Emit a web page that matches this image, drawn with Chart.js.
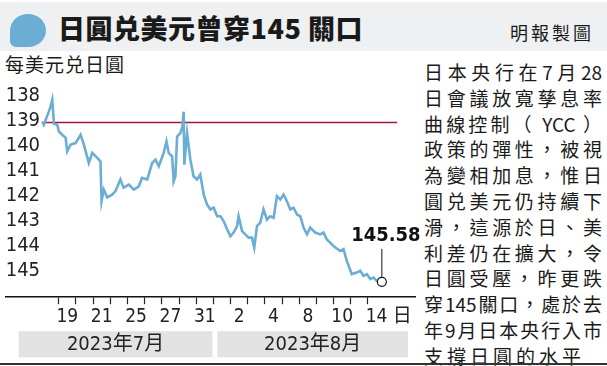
<!DOCTYPE html>
<html>
<head>
<meta charset="utf-8">
<script src="https://cdn.jsdelivr.net/npm/chart.js@4.4.0/dist/chart.umd.min.js"></script>
<style>
  body { margin:0; width:607px; height:366px; position:relative; overflow:hidden; background:#fff;
         font-family:"Noto Sans CJK TC", sans-serif; color:#1a1a1a; }
  #head { position:absolute; left:0; top:2px; width:607px; height:49px; background:#eef0f2; }
  #blob { position:absolute; left:10px; top:12px; width:36px; height:33px; background:#6aaed6;
          border-radius:50% 50% 50% 50% / 50% 50% 50% 50%; border-bottom-left-radius:6px; }
  #title { position:absolute; left:58px; top:11px; font-size:27px; line-height:29px; font-weight:900; letter-spacing:0.5px; }
  #credit { position:absolute; left:510px; top:20px; font-size:18px; line-height:20px; letter-spacing:3px; }
  #unit { position:absolute; left:5px; top:53px; font-size:19px; line-height:22px; letter-spacing:1px; }
  #note { position:absolute; left:424px; top:59px; width:178px; font-size:19px; line-height:25.8px; }
  #note div { text-align:justify; text-align-last:justify; white-space:nowrap; }
  #note div.last { text-align-last:left; letter-spacing:4px; }
  #rule { position:absolute; left:0; top:363px; width:607px; height:2px; background:#333; }
  canvas { position:absolute; left:0; top:0; }
</style>
</head>
<body>
<div id="head"><div id="blob"></div><div id="title">日圓兑美元曾穿145 關口</div><div id="credit">明報製圖</div></div>
<div id="unit">每美元兑日圓</div>
<div id="note">
  <div>日 本 央 行 在 7 月 28</div>
  <div>日會議放寬孳息率</div>
  <div>曲線控制（ YCC ）</div>
  <div>政策的彈性，被視</div>
  <div>為變相加息，惟日</div>
  <div>圓兑美元仍持續下</div>
  <div>滑，這源於日、美</div>
  <div>利差仍在擴大，令</div>
  <div>日圓受壓，昨更跌</div>
  <div>穿145關口，處於去</div>
  <div>年9月日本央行入市</div>
  <div class="last">支撐日圓的水平</div>
</div>
<div id="rule"></div>
<canvas id="myChart" width="607" height="366"></canvas>
<script>
"use strict";
// trading days shown on the axis
const julDays = [18, 19, 20, 21, 24, 25, 26, 27, 28, 31];
const augDays = [1, 2, 3, 4, 7, 8, 9, 10, 11, 14];
const shownDays = [19, 21, 25, 27, 31, 2, 4, 8, 10, 14];
const monthNames = ["2023年7月", "2023年8月"];
const dayUnit = "日";
const yTicks = [138, 139, 140, 141, 142, 143, 144, 145];

// position in trading days (0 = 18 Jul) and yen per dollar
const dayPos = [0.04,0.13,0.42,0.52,0.62,0.72,0.91,1.01,1.20,1.40,
  1.49,1.69,1.98,2.27,2.46,2.75,2.95,3.24,3.43,3.49,
  3.62,3.82,4.11,4.30,4.59,4.77,5.08,5.37,5.66,5.85,
  6.15,6.44,6.63,6.82,7.11,7.27,7.40,7.60,7.69,7.79,
  7.89,8.08,8.20,8.27,8.31,8.47,8.66,8.85,9.05,9.24,
  9.44,9.63,9.83,10.02,10.22,10.41,10.60,10.80,10.99,11.18,
  11.38,11.47,11.67,11.86,12.05,12.25,12.38,12.54,12.73,12.92,
  13.12,13.31,13.51,13.70,13.90,14.09,14.28,14.48,14.67,14.87,
  15.06,15.25,15.45,15.64,15.93,16.22,16.41,16.61,16.80,16.99,
  17.38,17.58,17.77,18.06,18.35,18.55,18.74,18.94,19.13,19.32,
  19.52,19.71,19.81];
const usdJpy = [139.20,139.33,138.81,138.61,138.34,139.29,139.33,139.60,139.73,139.85,
  140.39,140.12,140.06,139.73,140.12,140.85,140.45,140.65,140.79,142.37,
  141.91,142.22,142.11,141.97,141.51,141.83,141.71,141.91,141.78,141.44,
  141.51,140.85,140.72,140.98,140.45,139.99,140.45,140.59,141.58,141.38,
  139.80,139.66,139.40,138.81,140.92,139.66,140.72,141.38,141.51,141.31,
  142.11,142.50,142.70,142.63,142.97,142.97,143.16,143.49,143.76,143.62,
  143.36,142.97,143.56,143.69,143.82,143.82,144.22,143.36,143.23,142.70,
  143.10,142.97,143.03,142.17,142.30,142.11,142.37,142.70,142.63,142.90,
  142.97,143.42,143.69,143.42,143.62,143.69,143.62,143.89,144.02,144.15,
  144.35,144.28,144.75,145.27,145.21,145.14,145.34,145.27,145.47,145.41,
  145.54,145.45,145.58];
// red reference level
const refLevel = 139.24;
const refSpan = [0.04, 20.7];

const tradingDays = julDays.concat(augDays);
const narrow = "'Liberation Sans Narrow', 'DejaVu Sans Condensed', 'Noto Sans CJK TC', sans-serif";
Chart.defaults.font.family = narrow;
Chart.defaults.color = "#222";

// label + line for the last value
const lastLabel = {
  id: "lastLabel",
  afterDatasetsDraw(chart) {
    const pts = chart.getDatasetMeta(0).data;
    const p = pts[pts.length - 1];
    const ctx = chart.ctx;
    ctx.save();
    ctx.strokeStyle = "#111";
    ctx.lineWidth = 1;
    ctx.beginPath();
    ctx.moveTo(p.x, p.y - 5);
    ctx.lineTo(p.x, p.y - 33);
    ctx.stroke();
    ctx.font = "bold 20px " + narrow;
    ctx.fillStyle = "#111";
    ctx.textAlign = "center";
    ctx.textBaseline = "middle";
    ctx.fillText(usdJpy[usdJpy.length - 1].toFixed(2), p.x + 4, p.y - 46);
    ctx.restore();
  }
};

// grey month boxes under the day labels
const monthBars = {
  id: "monthBars",
  afterDraw(chart) {
    const ctx = chart.ctx;
    const area = chart.chartArea;
    const split = chart.scales.x.getPixelForValue(julDays.length);
    const boxes = [[area.left + 13, split - 1], [split + 4, area.right - 7]];
    const top = area.bottom + 34;
    ctx.save();
    ctx.font = "20px " + narrow;
    ctx.textAlign = "center";
    ctx.textBaseline = "middle";
    boxes.forEach(([l, r], i) => {
      ctx.fillStyle = "#e2e2e2";
      ctx.fillRect(l, top, r - l, 26);
      ctx.fillStyle = "#222";
      ctx.fillText(monthNames[i], (l + r) / 2, top + 13.5);
    });
    ctx.restore();
  }
};

const ctx = document.getElementById("myChart").getContext("2d");
const myChart = new Chart(ctx, {
  type: "line",
  data: {
    datasets: [{
      data: dayPos.map((x, i) => ({ x: x, y: usdJpy[i] })),
      borderColor: "#6aaed6",
      borderWidth: 2.6,
      tension: 0,
      pointRadius: (c) => c.dataIndex === usdJpy.length - 1 ? 4.5 : 0,
      pointBackgroundColor: "#fff",
      pointBorderColor: "#111",
      pointBorderWidth: 1.2,
      order: 0
    }, {
      data: refSpan.map((x) => ({ x: x, y: refLevel })),
      borderColor: "#a3173a",
      borderWidth: 1.5,
      pointRadius: 0,
      order: 1
    }]
  },
  options: {
    responsive: false,
    animation: false,
    events: [],
    layout: { padding: { left: 5, right: 192, top: 81, bottom: 37 } },
    plugins: { legend: { display: false }, tooltip: { enabled: false } },
    scales: {
      x: {
        type: "linear",
        min: -2.09,
        max: 21.74,
        afterBuildTicks: (axis) => {
          const t = [];
          for (let i = 1; i < tradingDays.length; i++) t.push({ value: i, txt: "" });
          tradingDays.forEach((d, i) => {
            if (shownDays.includes(d)) t.push({ value: i + 0.5, txt: String(d) });
          });
          t.push({ value: tradingDays.length + 1, txt: dayUnit });
          t.sort((a, b) => a.value - b.value);
          axis.ticks = t;
        },
        ticks: {
          autoSkip: false,
          maxRotation: 0,
          padding: 1,
          font: { size: 19 },
          callback: (v, i, ticks) => ticks[i].txt
        },
        grid: {
          drawOnChartArea: false,
          tickLength: 7,
          tickWidth: 1.2,
          tickColor: (c) => Number.isInteger(c.tick.value) && c.tick.value < tradingDays.length ? "#222" : "rgba(0,0,0,0)"
        },
        border: { display: true, color: "#111", width: 1.5 }
      },
      y: {
        type: "linear",
        reverse: true,
        min: 137.59,
        max: 146.19,
        afterBuildTicks: (axis) => {
          axis.ticks = yTicks.flatMap((v) => [{ value: v }, { value: v + 0.5 }]);
        },
        ticks: {
          mirror: true,
          padding: 0,
          labelOffset: 4,
          font: { size: 20 },
          callback: (v) => Number.isInteger(v) ? String(v) : ""
        },
        grid: {
          drawTicks: false,
          lineWidth: 1,
          color: (c) => Number.isInteger(c.tick.value) ? "rgba(0,0,0,0)" : "#8a8a8a"
        },
        border: { display: false, dash: [1.5, 1.5] }
      }
    }
  },
  plugins: [lastLabel, monthBars]
});
</script>
</body>
</html>
